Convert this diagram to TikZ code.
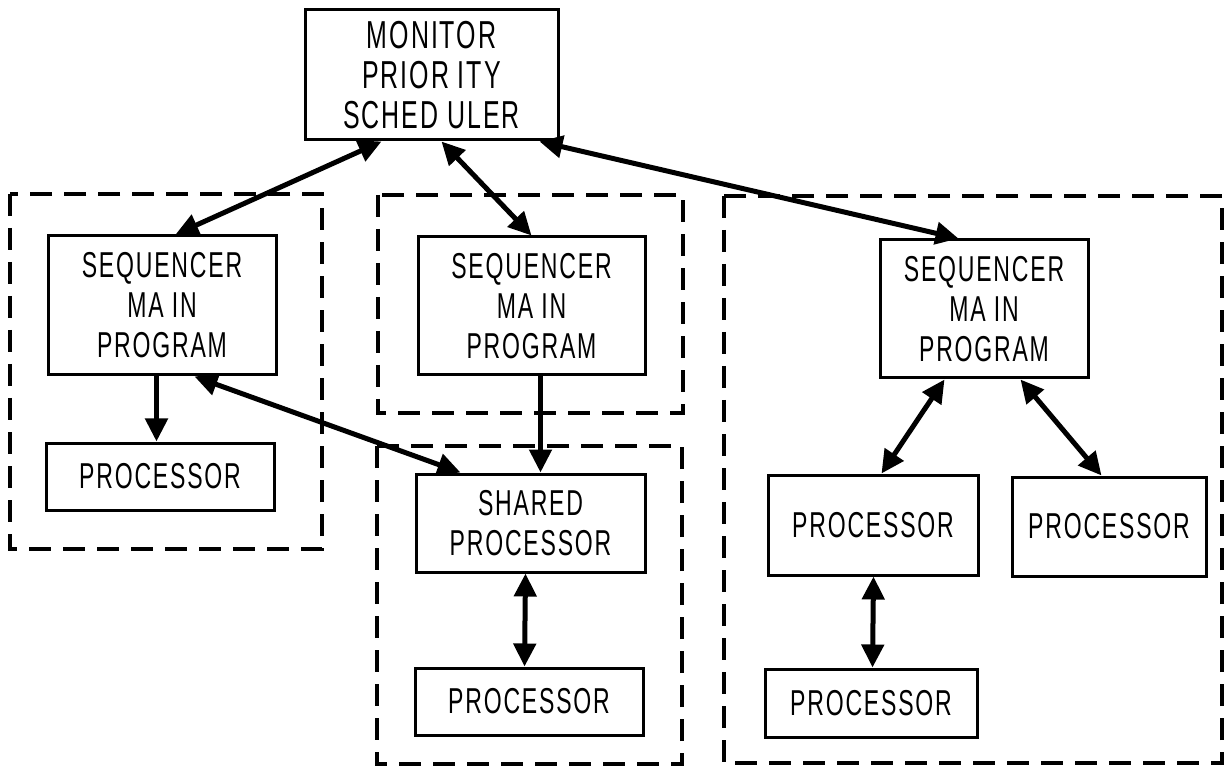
\documentclass[tikz,border=0pt]{standalone}
\usepackage{fontspec}
\setmainfont{Liberation Sans}[FakeStretch=0.64,LetterSpace=5]
\usetikzlibrary{arrows.meta,calc}
\begin{document}
\begin{tikzpicture}[x=0.5pt,y=-0.5pt,
  >={Triangle[length=11.5pt,width=11pt]},
  box/.style={draw,line width=1.5pt,align=center,inner sep=0pt,
    font=\fontsize{18}{20}\selectfont},
  monbox/.style={box,font=\fontsize{19.5}{20}\selectfont},
  groupbox/.style={draw,line width=1.6pt,dash pattern=on 11pt off 6pt},
  link/.style={line width=2.5pt,<->},
  flow/.style={line width=2.5pt,->}]
\useasboundingbox (0,0) rectangle (1224,769);
% group frames
\draw[groupbox] (10,194) rectangle (322,549);
\draw[groupbox] (378,195) rectangle (683,413);
\draw[groupbox] (377,446) rectangle (682,764);
\draw[groupbox] (724,196) rectangle (1222,763);
% boxes
\node[monbox,minimum width=126.5pt,minimum height=65pt] (mon) at (431.5,75) {MONITOR\\PRIOR ITY\\SCHED ULER};
\node[box,minimum width=114pt,minimum height=69.5pt] (seqL) at (162,305.5) {SEQUENCER\\MA IN\\PROGRAM};
\node[box,minimum width=114pt,minimum height=33.5pt] (procL) at (160,476.5) {PROCESSOR};
\node[box,minimum width=113.5pt,minimum height=69pt] (seqM) at (531.5,306) {SEQUENCER\\MA IN\\PROGRAM};
\node[box,minimum width=114.5pt,minimum height=49pt] (shared) at (530.5,523) {SHARED\\PROCESSOR};
\node[box,minimum width=114pt,minimum height=33.5pt] (procM) at (529,701.5) {PROCESSOR};
\node[box,minimum width=104pt,minimum height=69pt] (seqR) at (984,309) {SEQUENCER\\MA IN\\PROGRAM};
\node[box,minimum width=105pt,minimum height=50pt] (procRa) at (873,525) {PROCESSOR};
\node[box,minimum width=97pt,minimum height=49.5pt] (procRb) at (1109,526.5) {PROCESSOR};
\node[box,minimum width=106pt,minimum height=34pt] (procRc) at (871,703) {PROCESSOR};
% connectors
\draw[link] ($(mon.south west)+(78,0)$) -- ($(seqL.north west)+(129,0)$);
\draw[link] ($(mon.south west)+(138,0)$) -- ($(seqM.north west)+(115,0)$);
\draw[link] ($(mon.south west)+(236,0)$) -- ($(seqR.north west)+(80,0)$);
\draw[flow] ($(seqL.south west)+(110,0)$) -- ($(procL.north west)+(112,0)$);
\draw[link] ($(seqL.south west)+(148,0)$) -- ($(shared.north west)+(46,0)$);
\draw[flow] ($(seqM.south west)+(124,0)$) -- ($(shared.north west)+(126,0)$);
\draw[link] ($(shared.south west)+(111,0)$) -- ($(procM.north west)+(111,0)$);
\draw[link] ($(seqR.south west)+(66,0)$) -- ($(procRa.north west)+(115,0)$);
\draw[link] ($(seqR.south west)+(142,0)$) -- ($(procRb.north west)+(91,0)$);
\draw[link] ($(procRa.south west)+(107,0)$) -- ($(procRc.north west)+(109,0)$);
\end{tikzpicture}
\end{document}
